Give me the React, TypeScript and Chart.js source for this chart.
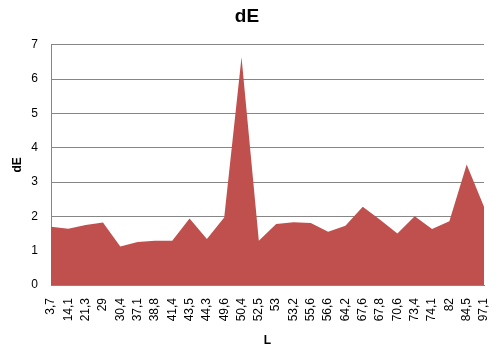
import React, { useEffect, useRef } from "react";
import { Chart, registerables } from "chart.js";

Chart.register(...registerables);

const categories = ["3,7","14,1","21,3","29","30,4","37,1","38,8","41,4","43,5","44,3","49,6","50,4","52,5","53","53,2","55,6","56,6","64,2","67,6","67,8","70,6","73,4","74,1","82","84,5","97,1"];
const dEValues = [1.70,1.64,1.75,1.82,1.12,1.25,1.29,1.29,1.94,1.34,1.97,6.64,1.29,1.78,1.83,1.81,1.55,1.73,2.28,1.90,1.50,2.00,1.63,1.86,3.51,2.28];
const yTicks = [0,1,2,3,4,5,6,7];

const FONT = "'Liberation Sans', Arial, sans-serif";

export default function App() {
  const ref = useRef<HTMLCanvasElement>(null);
  useEffect(() => {
    document.body.style.margin = "0";
    const chart = new Chart(ref.current!, {
      type: "line",
      data: {
        labels: categories,
        datasets: [{
          label: "dE",
          data: dEValues,
          fill: "origin",
          backgroundColor: "#C0504D",
          borderColor: "#C0504D",
          borderWidth: 0,
          pointRadius: 0,
          tension: 0,
        }],
      },
      options: {
        animation: false,
        responsive: false,
        layout: { padding: { left: 10, right: 15, top: 0, bottom: 0 } },
        plugins: {
          legend: { display: false },
          tooltip: { enabled: false },
          title: {
            display: true,
            text: "dE",
            color: "#000",
            font: { family: FONT, size: 19, weight: "bold" },
            padding: { top: 5, bottom: 17 },
          },
        },
        scales: {
          x: {
            offset: false,
            grid: { display: false, drawTicks: false },
            border: { display: true, color: "#868686" },
            ticks: {
              color: "#000",
              font: { family: FONT, size: 12 },
              maxRotation: 90,
              minRotation: 90,
              autoSkip: false,
              padding: 13,
            },
            title: {
              display: true,
              text: "L",
              color: "#000",
              font: { family: FONT, size: 12, weight: "bold" },
              padding: { top: 0, bottom: 4 },
            },
            afterFit: (s: any) => {
              s.height = 67;
              s.paddingLeft = 0;
              s.paddingRight = 0;
            },
          },
          y: {
            min: 0,
            max: 7,
            afterBuildTicks: (s: any) => { s.ticks = yTicks.map((v) => ({ value: v })); },
            grid: { color: "#868686", drawTicks: false, lineWidth: 1 },
            border: { display: true, color: "#868686" },
            ticks: {
              color: "#000",
              font: { family: FONT, size: 12 },
              padding: 13,
            },
            title: {
              display: true,
              text: "dE",
              color: "#000",
              font: { family: FONT, size: 12, weight: "bold" },
              padding: { top: 0, bottom: 0 },
            },
            afterFit: (s: any) => {
              s.width = 41;
              s.paddingTop = 0;
              s.paddingBottom = 0;
            },
          },
        },
      },
    });
    return () => chart.destroy();
  }, []);
  return (
    <div style={{ width: 499, height: 352 }}>
      <canvas ref={ref} width={499} height={352} style={{ display: "block" }} />
    </div>
  );
}
